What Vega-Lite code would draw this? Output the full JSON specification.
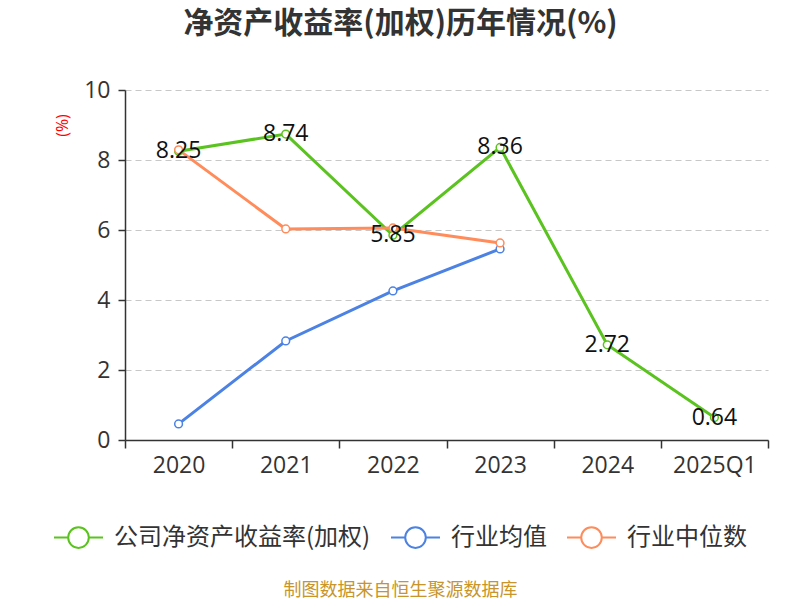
{
  "$schema": "https://vega.github.io/schema/vega-lite/v6.json",
  "width": 643,
  "height": 350,
  "autosize": {"type": "none"},
  "padding": {"left": 125, "top": 90, "right": 32, "bottom": 160},
  "background": "white",
  "title": {
    "text": "净资产收益率(加权)历年情况(%)",
    "font": "Noto Sans CJK SC",
    "fontSize": 30,
    "fontWeight": "bold",
    "color": "#333333",
    "anchor": "middle",
    "frame": "group",
    "dx": -46,
    "offset": 40
  },
  "config": {
    "font": "'Open Sans', 'Noto Sans CJK SC'",
    "view": {"stroke": null}
  },
  "data": {
    "values": [
      {"year": "2020", "series": "公司净资产收益率(加权)", "value": 8.25},
      {"year": "2021", "series": "公司净资产收益率(加权)", "value": 8.74},
      {"year": "2022", "series": "公司净资产收益率(加权)", "value": 5.85},
      {"year": "2023", "series": "公司净资产收益率(加权)", "value": 8.36},
      {"year": "2024", "series": "公司净资产收益率(加权)", "value": 2.72},
      {"year": "2025Q1", "series": "公司净资产收益率(加权)", "value": 0.64},
      {"year": "2020", "series": "行业均值", "value": 0.46},
      {"year": "2021", "series": "行业均值", "value": 2.83},
      {"year": "2022", "series": "行业均值", "value": 4.26},
      {"year": "2023", "series": "行业均值", "value": 5.46},
      {"year": "2020", "series": "行业中位数", "value": 8.29},
      {"year": "2021", "series": "行业中位数", "value": 6.03},
      {"year": "2022", "series": "行业中位数", "value": 6.06},
      {"year": "2023", "series": "行业中位数", "value": 5.63}
    ]
  },
  "encoding": {
    "x": {
      "field": "year",
      "type": "ordinal",
      "sort": null,
      "scale": {"paddingInner": 0, "paddingOuter": 0},
      "axis": {
        "title": "制图数据来自恒生聚源数据库",
        "titleFont": "Noto Sans CJK SC",
        "titleColor": "#c8952a",
        "titleFontSize": 18,
        "titleFontWeight": "normal",
        "titleX": 275,
        "titleY": 150,
        "titleAlign": "center",
        "titleBaseline": "middle",
        "labelAngle": 0,
        "labelFontSize": 23,
        "labelColor": "#333333",
        "labelPadding": 6,
        "tickBand": "extent",
        "tickSize": 8,
        "tickColor": "#333333",
        "domainColor": "#333333",
        "domainWidth": 1.5,
        "tickWidth": 1.5,
        "grid": false
      }
    },
    "y": {
      "field": "value",
      "type": "quantitative",
      "scale": {"domain": [0, 10]},
      "axis": {
        "title": "(%)",
        "titleColor": "#ff0000",
        "titleFontSize": 16,
        "titleFontWeight": "normal",
        "titleX": -63,
        "titleY": 35,
        "titleAngle": -90,
        "titleAlign": "center",
        "titleBaseline": "middle",
        "values": [0, 2, 4, 6, 8, 10],
        "labelFontSize": 23,
        "labelColor": "#333333",
        "labelPadding": 8,
        "tickSize": 7,
        "tickColor": "#333333",
        "tickWidth": 1.5,
        "domainColor": "#333333",
        "domainWidth": 1.5,
        "grid": true,
        "gridColor": "#c8c8c8",
        "gridDash": [6, 4],
        "gridWidth": 1.2
      }
    },
    "color": {
      "field": "series",
      "type": "nominal",
      "sort": ["公司净资产收益率(加权)", "行业均值", "行业中位数"],
      "scale": {
        "domain": ["公司净资产收益率(加权)", "行业均值", "行业中位数"],
        "range": ["#5bc31f", "#4b82e4", "#ff8c5a"]
      },
      "legend": {
        "title": null,
        "orient": "none",
        "direction": "horizontal",
        "legendX": -72,
        "legendY": 422,
        "labelFont": "Noto Sans CJK SC",
        "labelFontSize": 24,
        "labelColor": "#333333",
        "labelLimit": 400,
        "labelOffset": 10,
        "columnPadding": 16,
        "symbolType": "M-1,0L-0.42,0M0.42,0L1,0M0.42,0A0.42,0.42,0,1,1,-0.42,0A0.42,0.42,0,1,1,0.42,0Z",
        "symbolSize": 2400,
        "symbolStrokeWidth": 2,
        "symbolFillColor": "white"
      }
    }
  },
  "layer": [
    {
      "mark": {"type": "line", "strokeWidth": 3},
      "encoding": {}
    },
    {
      "mark": {"type": "point", "filled": false, "fill": "white", "fillOpacity": 1, "size": 60, "strokeWidth": 1.5, "opacity": 1},
      "encoding": {}
    },
    {
      "transform": [{"filter": "datum.series == '公司净资产收益率(加权)'"}],
      "mark": {"type": "text", "fontSize": 23, "baseline": "middle", "align": "center"},
      "encoding": {
        "text": {"field": "value", "type": "quantitative", "format": ".2f"},
        "color": {"value": "#111111"}
      }
    }
  ]
}
